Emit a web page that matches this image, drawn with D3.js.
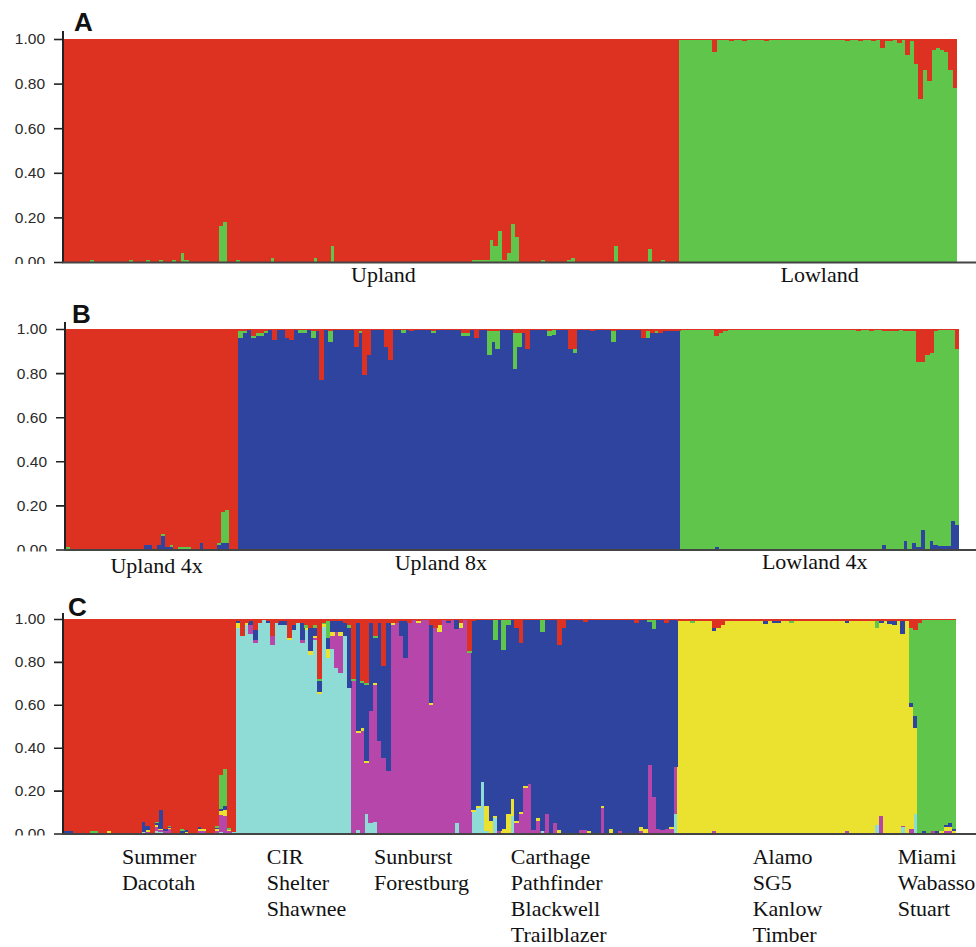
<!DOCTYPE html>
<html>
<head>
<meta charset="utf-8">
<script src="https://cdn.jsdelivr.net/npm/d3@7"></script>
<style>
  html, body { margin: 0; padding: 0; background: #fff; }
  svg { display: block; }
  .tick text { font-family: "Liberation Sans", Arial, sans-serif; font-size: 15.5px; fill: #2a2a2a; }
  .tick line { stroke: #222; stroke-width: 1.6; }
  .pop-label { font-family: "Liberation Serif", "Times New Roman", serif; font-size: 22px; fill: #111; }
  .panel-letter { font-family: "Liberation Sans", Arial, sans-serif; font-weight: bold; font-size: 26px; fill: #111; }
  .layer rect { shape-rendering: crispEdges; }
</style>
</head>
<body>
<div id="chart"></div>
<script>
// STRUCTURE-style admixture plot, three runs (K = 2, 3, 6)
// Each group: [cluster, number of individuals, background admixture shared by the group].
// Admixed individuals are listed in a mix array:
// [individual index, {cluster: proportion, ...}] - the group cluster takes the rest.

const clusterColors = {
    red: '#dd3122',
    green: '#60c54b',
    blue: '#2f449e',
    cyan: '#8fdcd6',
    magenta: '#b746aa',
    yellow: '#ebe12f'
};

// ---- Panel A (K = 2) ----
const orderA = ['green', 'red'];   // stacking order, bottom -> top
const groupsA = [['red', 143, {}], ['green', 65, {red: .006}]];
const mixA = [
    [6, {green: .01}], [15, {green: .01}], [19, {green: .01}], [22, {green: .01}],
    [25, {green: .01}], [27, {green: .04}], [28, {green: .01}], [36, {green: .16}],
    [37, {green: .18}], [40, {green: .01}], [48, {green: .02}], [58, {green: .02}],
    [62, {green: .07}], [95, {green: .01}], [96, {green: .01}], [97, {green: .01}],
    [98, {green: .01}], [99, {green: .10}], [100, {green: .07}], [101, {green: .14}],
    [102, {green: .01}], [103, {green: .04}], [104, {green: .17}], [105, {green: .11}],
    [111, {green: .01}], [117, {green: .01}], [118, {green: .02}], [128, {green: .07}],
    [136, {green: .06}], [139, {green: .01}],
    [151, {red: .06}], [155, {red: .01}], [158, {red: .01}], [163, {red: .01}],
    [182, {red: .01}], [185, {red: .01}], [188, {red: .01}], [190, {red: .04}],
    [191, {red: .01}], [192, {red: .01}], [194, {red: .02}], [196, {red: .07}],
    [197, {red: .01}], [198, {red: .11}], [199, {red: .27}], [200, {red: .14}],
    [201, {red: .19}], [202, {red: .05}], [203, {red: .04}], [204, {red: .05}],
    [205, {red: .06}], [206, {red: .14}], [207, {red: .22}]
];
const labelsA = ['Upland', 'Lowland'];

// ---- Panel B (K = 3) ----
const orderB = ['blue', 'green', 'red'];
const groupsB = [['red', 40, {}], ['blue', 103, {red: .006}], ['green', 65, {red: .006}]];
const mixB = [
    [0, {green: .01}], [18, {blue: .02}], [19, {blue: .02}], [21, {blue: .02}],
    [22, {blue: .06, green: .01}], [23, {blue: .01}], [24, {blue: .01, green: .01}],
    [26, {green: .01}], [27, {green: .01}], [28, {green: .01}], [31, {blue: .03}],
    [35, {blue: .02, green: .01}], [36, {blue: .03, green: .14}], [37, {blue: .03, green: .15}],
    [40, {green: .03, red: .01}], [41, {green: .01, red: .01}], [43, {green: .01, red: .03}],
    [44, {green: .01, red: .02}], [45, {green: .01, red: .02}], [46, {green: .01, red: .01}],
    [48, {red: .05}], [51, {red: .04}], [52, {red: .05}], [54, {green: .01}], [55, {green: .01}],
    [57, {green: .03, red: .01}], [58, {red: .01}], [59, {red: .23}], [61, {green: .05, red: .01}],
    [67, {red: .08}], [68, {green: .01, red: .01}], [69, {red: .21}], [70, {red: .12}],
    [74, {red: .08}], [75, {red: .14}], [78, {green: .01}], [80, {red: .01}],
    [85, {green: .01, red: .01}], [92, {green: .01, red: .02}], [93, {green: .01, red: .02}],
    [95, {red: .04}], [98, {green: .11, red: .01}], [99, {green: .05, red: .01}],
    [100, {green: .08, red: .01}], [104, {green: .16, red: .02}], [105, {green: .06, red: .02}],
    [106, {red: .02}], [107, {red: .09}], [112, {green: .02, red: .01}], [113, {green: .02}],
    [117, {red: .09}], [118, {green: .02, red: .09}], [122, {red: .01}], [127, {green: .05, red: .01}],
    [134, {red: .04}], [135, {green: .03, red: .01}], [136, {red: .02}], [137, {green: .01, red: .01}],
    [138, {red: .02}], [139, {red: .01}], [140, {red: .01}], [141, {red: .01}], [142, {red: .01}],
    [151, {blue: .01, red: .03}], [152, {red: .02}], [153, {red: .01}], [184, {red: .01}],
    [187, {red: .01}], [190, {blue: .02, red: .01}], [191, {red: .01}], [192, {red: .01}],
    [193, {red: .01}], [195, {blue: .04, red: .01}], [196, {red: .01}], [197, {blue: .03, red: .01}],
    [198, {blue: .01, red: .15}], [199, {blue: .09, red: .15}], [200, {red: .12}],
    [201, {blue: .04, red: .11}], [202, {blue: .02, red: .01}], [203, {blue: .015}],
    [204, {blue: .015}], [205, {blue: .015}], [206, {blue: .13}], [207, {blue: .11, red: .09}]
];
const labelsB = ['Upland 4x', 'Upland 8x', 'Lowland 4x'];

// ---- Panel C (K = 6) ----
const orderC = ['cyan', 'magenta', 'yellow', 'blue', 'green', 'red'];
const groupsC = [
    ['red', 40, {}], ['cyan', 27, {red: .006}], ['magenta', 28, {red: .006}],
    ['blue', 48, {red: .006}], ['yellow', 56, {red: .008}], ['green', 9, {red: .006}]
];
const mixC = [
    // Summer / Dacotah
    [0, {blue: .01}], [1, {blue: .01}], [6, {green: .01}], [7, {green: .01}], [10, {yellow: .01}],
    [18, {cyan: .005, blue: .05}], [19, {magenta: .005, yellow: .01, blue: .02}],
    [21, {cyan: .01, magenta: .02, yellow: .01, blue: .01, green: .005}],
    [22, {cyan: .005, magenta: .01, yellow: .005, blue: .09}], [23, {magenta: .01, blue: .01}],
    [24, {magenta: .02, yellow: .005, blue: .005, green: .005}], [27, {blue: .01, green: .01}],
    [28, {yellow: .005, blue: .01}], [31, {magenta: .01, yellow: .01, blue: .01}],
    [32, {magenta: .01, yellow: .01}], [35, {magenta: .01, yellow: .01, blue: .005, green: .01}],
    [36, {cyan: .005, magenta: .08, yellow: .02, blue: .01, green: .16}],
    [37, {magenta: .08, yellow: .03, blue: .02, green: .17}],
    [38, {magenta: .01, yellow: .005, green: .01}], [39, {cyan: .005}],
    // CIR / Shelter / Shawnee
    [40, {yellow: .02, blue: .01, red: .01}], [41, {red: .08}], [42, {yellow: .01, red: .02}],
    [43, {magenta: .04, blue: .02, red: .01}], [44, {magenta: .01, blue: .05, red: .05}],
    [45, {red: .02}], [47, {blue: .01, red: .01}], [48, {magenta: .04, red: .08}], [49, {red: .02}],
    [50, {blue: .02, red: .01}], [51, {blue: .02, red: .01}], [52, {yellow: .01, red: .09}],
    [53, {blue: .02, red: .03}], [54, {red: .02}], [55, {magenta: .01, blue: .08, red: .02}],
    [56, {yellow: .01, green: .01, red: .03}], [57, {yellow: .02, blue: .11, red: .04}],
    [58, {magenta: .01, yellow: .01, blue: .04, green: .01, red: .03}],
    [59, {yellow: .01, blue: .05, green: .01, red: .28}], [60, {yellow: .01, green: .005, red: .02}],
    [61, {yellow: .04, blue: .05, green: .08, red: .01}],
    [62, {magenta: .06, yellow: .02, blue: .05, red: .01}], [63, {magenta: .17, blue: .05, red: .01}],
    [64, {magenta: .17, yellow: .02, blue: .05, red: .01}], [65, {blue: .06, red: .02}],
    [66, {blue: .28, green: .01, red: .03}],
    // Sunburst / Forestburg
    [67, {green: .01, red: .28}], [68, {cyan: .015, yellow: .01, blue: .50, red: .02}],
    [69, {yellow: .01, blue: .21, green: .01, red: .29}],
    [70, {cyan: .09, yellow: .01, blue: .35, green: .01, red: .30}],
    [71, {cyan: .05, blue: .41, red: .02}],
    [72, {cyan: .055, yellow: .01, blue: .21, green: .01, red: .08}],
    [73, {blue: .55, red: .02}], [74, {blue: .43, red: .22}], [75, {blue: .69, red: .02}],
    [76, {yellow: .01, red: .02}], [77, {red: .02}], [78, {blue: .07, red: .01}],
    [79, {blue: .17, red: .01}], [80, {red: .02}], [82, {yellow: .01, red: .01}],
    [85, {yellow: .01, blue: .36, red: .03}], [86, {red: .04}], [87, {yellow: .03, red: .03}],
    [89, {blue: .01, red: .01}], [91, {cyan: .05, blue: .04}], [92, {yellow: .02, red: .02}],
    [94, {green: .01, red: .15}],
    // Carthage / Pathfinder / Blackwell / Trailblazer
    [95, {cyan: .10, yellow: .01, red: .01}], [96, {cyan: .12, yellow: .01}], [97, {cyan: .24}],
    [98, {cyan: .01, yellow: .12}], [99, {yellow: .06}], [100, {cyan: .07, yellow: .01, green: .09}],
    [101, {magenta: .01}], [102, {yellow: .02, green: .14}], [103, {yellow: .09, green: .02}],
    [104, {cyan: .08, yellow: .08}], [105, {magenta: .05, yellow: .01, red: .04}],
    [106, {magenta: .09, yellow: .01, red: .11}], [107, {magenta: .21, yellow: .01}],
    [108, {magenta: .23}], [109, {magenta: .015}], [110, {magenta: .06, yellow: .01}],
    [111, {cyan: .01, green: .055}], [112, {magenta: .09}], [114, {magenta: .05}],
    [115, {yellow: .015, red: .12}], [116, {red: .04}], [120, {magenta: .015}],
    [121, {magenta: .015, red: .015}], [122, {yellow: .01}], [125, {magenta: .12, yellow: .01}],
    [127, {yellow: .02}], [129, {magenta: .01}], [133, {red: .02}], [134, {magenta: .01, yellow: .02}],
    [135, {yellow: .02}], [136, {magenta: .32, green: .01}], [137, {magenta: .17, green: .04}],
    [138, {magenta: .02}], [139, {magenta: .015}], [140, {magenta: .02, red: .02}],
    [141, {magenta: .02, yellow: .01}], [142, {cyan: .09, magenta: .22}],
    // Alamo / SG5 / Kanlow / Timber
    [146, {green: .01}], [151, {magenta: .01, blue: .015, red: .04}], [152, {red: .04}],
    [153, {red: .03}], [154, {red: .01}], [163, {blue: .015}], [165, {blue: .01}], [166, {blue: .01}],
    [169, {green: .01}], [182, {magenta: .01, blue: .01}], [189, {cyan: .04, green: .03, red: .01}],
    [190, {magenta: .08, blue: .01}], [192, {blue: .015}], [193, {blue: .02}],
    [195, {cyan: .03, magenta: .005, blue: .06, red: .01}], [196, {red: .01}],
    [197, {magenta: .02, blue: .02, green: .35, red: .04}],
    [198, {cyan: .09, blue: .06, green: .40, red: .05}],
    // Miami / Wabasso / Stuart
    [199, {red: .02}], [200, {blue: .01}], [202, {magenta: .01}], [203, {blue: .01}],
    [204, {yellow: .01}], [205, {magenta: .01, yellow: .02, blue: .01}],
    [206, {magenta: .01, yellow: .02, blue: .02}], [207, {yellow: .01, blue: .01}]
];
const labelsC = [
    ['Summer', 'Dacotah'],
    ['CIR', 'Shelter', 'Shawnee'],
    ['Sunburst', 'Forestburg'],
    ['Carthage', 'Pathfinder', 'Blackwell', 'Trailblazer'],
    ['Alamo', 'SG5', 'Kanlow', 'Timber'],
    ['Miami', 'Wabasso', 'Stuart']
];

const yTicks = [0, 0.2, 0.4, 0.6, 0.8, 1.0];

// ---- layout ----
const width = 976, height = 947;
const panels = [
    {letter: 'A', order: orderA, groups: groupsA, mix: mixA, labels: labelsA,
     x0: 64, x1: 957, yTop: 39, yBottom: 262, axisX: 63, axisTop: 31, letterXY: [74, 31],
     labelAt: [[74.4, 282], [176, 282]], labelMode: 'center'},
    {letter: 'B', order: orderB, groups: groupsB, mix: mixB, labels: labelsB,
     x0: 66, x1: 959, yTop: 329, yBottom: 549.5, axisX: 65, axisTop: 322, letterXY: [72, 323],
     labelAt: [[21.1, 573], [87.3, 570], [174.4, 569]], labelMode: 'center'},
    {letter: 'C', order: orderC, groups: groupsC, mix: mixC, labels: labelsC,
     x0: 64, x1: 956, yTop: 619, yBottom: 833.5, axisX: 63, axisTop: 613, letterXY: [68, 616],
     labelAt: [[13.5, 864], [47.3, 864], [72.3, 864], [104.2, 864], [160.6, 864], [194.4, 864]],
     labelMode: 'start', lineHeight: 26}
];

function buildRows(groups, mix, keys) {
    const rows = [];
    groups.forEach(([base, count, fringe]) => {
        for (let k = 0; k < count; k++) {
            const row = {base};
            keys.forEach(c => row[c] = 0);
            Object.entries(fringe).forEach(([c, v]) => row[c] = v);
            rows.push(row);
        }
    });
    mix.forEach(([i, q]) => {
        Object.entries(q).forEach(([c, v]) => { rows[i][c] = v; });
    });
    // the group's own cluster takes whatever is left
    rows.forEach(row => {
        const other = d3.sum(keys.filter(c => c !== row.base), c => row[c]);
        row[row.base] = 1 - other;
    });
    return rows;
}

const svg = d3.select('#chart').append('svg')
    .attr('width', width)
    .attr('height', height);

const defs = svg.append('defs');

panels.forEach((p, pi) => {
    const rows = buildRows(p.groups, p.mix, p.order);
    const n = rows.length;

    const x = d3.scaleLinear().domain([0, n]).range([p.x0, p.x1]);
    const y = d3.scaleLinear().domain([0, 1]).range([p.yBottom, p.yTop]);

    const series = d3.stack().keys(p.order)(rows);

    const g = svg.append('g').attr('class', 'panel');

    // bars
    g.selectAll('g.layer')
        .data(series)
        .join('g')
        .attr('class', 'layer')
        .attr('fill', s => clusterColors[s.key])
        .selectAll('rect')
        .data(s => s.map((d, i) => ({i, y0: d[0], y1: d[1]})).filter(d => d.y1 - d.y0 > 0))
        .join('rect')
        .attr('x', d => x(d.i))
        .attr('width', d => x(d.i + 1) - x(d.i) + (d.i < n - 1 ? 0.6 : 0))
        .attr('y', d => y(d.y1))
        .attr('height', d => Math.max(1, y(d.y0) - y(d.y1)));

    // y axis (tick labels clipped just below the baseline, like the source)
    const clipId = 'clip-axis-' + pi;
    defs.append('clipPath').attr('id', clipId)
        .append('rect')
        .attr('x', -p.axisX).attr('y', p.axisTop - 20)
        .attr('width', p.axisX + 2).attr('height', p.yBottom + 2 - (p.axisTop - 20));

    const axisG = g.append('g')
        .attr('transform', `translate(${p.axisX},0)`)
        .attr('clip-path', `url(#${clipId})`)
        .call(d3.axisLeft(y)
            .tickValues(yTicks)
            .tickFormat(d3.format('.2f'))
            .tickSize(9)
            .tickPadding(9));
    axisG.select('.domain').remove();

    g.append('line')
        .attr('x1', p.axisX).attr('x2', p.axisX)
        .attr('y1', p.axisTop).attr('y2', p.yBottom + 1)
        .attr('stroke', '#222').attr('stroke-width', 2);

    g.append('line')
        .attr('x1', p.axisX - 1).attr('x2', width)
        .attr('y1', p.yBottom + 0.5).attr('y2', p.yBottom + 0.5)
        .attr('stroke', '#444').attr('stroke-width', 2);

    // panel letter
    g.append('text')
        .attr('class', 'panel-letter')
        .attr('x', p.letterXY[0])
        .attr('y', p.letterXY[1])
        .text(p.letter);

    // population labels
    p.labels.forEach((lab, li) => {
        const [idx, base] = p.labelAt[li];
        const t = g.append('text')
            .attr('class', 'pop-label')
            .attr('text-anchor', p.labelMode === 'center' ? 'middle' : 'start')
            .attr('x', x(idx))
            .attr('y', base);
        if (Array.isArray(lab)) {
            lab.forEach((line, k) => {
                t.append('tspan')
                    .attr('x', x(idx))
                    .attr('y', base + k * p.lineHeight)
                    .text(line);
            });
        } else {
            t.text(lab);
        }
    });
});
</script>
</body>
</html>
